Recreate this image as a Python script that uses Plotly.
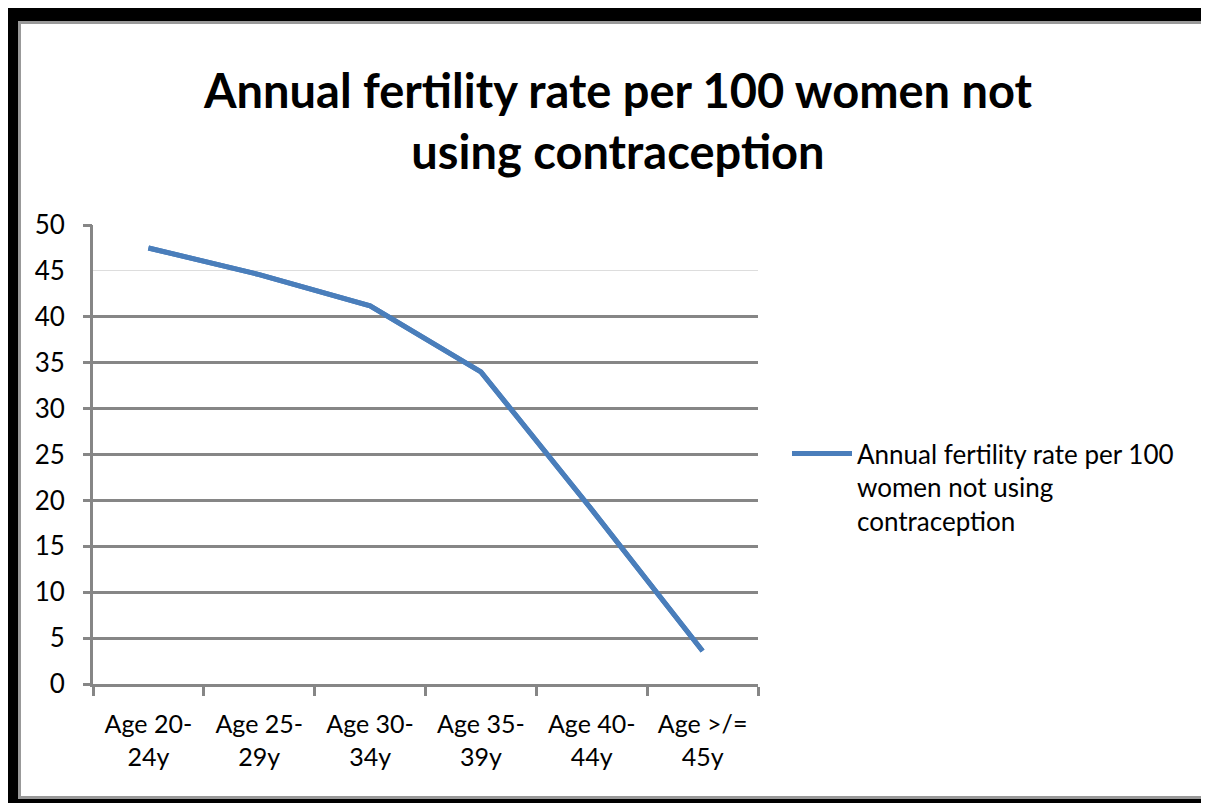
import plotly.graph_objects as go

categories = ["Age 20-<br>24y", "Age 25-<br>29y", "Age 30-<br>34y", "Age 35-<br>39y", "Age 40-<br>44y", "Age >/=<br>45y"]
fertility_rate = [47.5, 44.6, 41.2, 34.0, 19.0, 3.6]
series_name = "Annual fertility rate per 100<br>women not using<br>contraception"
title_text = "<b>Annual fertility rate per 100 women not<br>using contraception</b>"
y_ticks_all = [0, 5, 10, 15, 20, 25, 30, 35, 40, 45, 50]
y_ticks_major = [0, 5, 10, 15, 20, 25, 30, 35, 40, 50]

OFF = 8  # page body margin
W, H = 1209 - OFF, 803 - OFF
FONT = "Lato"
GRAY = "#868686"
BLUE = "#4a7ebb"

def px(x):
    return (x - OFF) / W

def py(y):
    return 1 - (y - OFF) / H

fig = go.Figure()
fig.add_trace(go.Scatter(
    x=categories, y=fertility_rate, mode="lines", name=series_name,
    line=dict(color=BLUE, width=5), xaxis="x", yaxis="y", hoverinfo="x+y",
))
fig.add_trace(go.Scatter(
    x=categories, y=fertility_rate, mode="lines", showlegend=False,
    line=dict(color=BLUE, width=5), xaxis="x", yaxis="y2", hoverinfo="skip",
))

fig.update_layout(
    width=W, height=H,
    margin=dict(l=0, r=0, t=0, b=0, autoexpand=False),
    paper_bgcolor="white", plot_bgcolor="white",
    font=dict(family=FONT, color="#000000"),
    title=dict(text=title_text, x=px(618), xanchor="center", y=py(108), yanchor="top",
               font=dict(family=FONT, size=47, color="#000000"), automargin=False),
    xaxis=dict(
        domain=[px(93), px(758)], anchor="y", automargin=False,
        type="category", range=[-0.5, 5.5],
        showline=True, linecolor=GRAY, linewidth=3,
        ticks="outside", tickson="boundaries", ticklen=9, tickwidth=3, tickcolor=GRAY,
        showgrid=False, tickfont=dict(size=25, family=FONT, color="#000"),
        ticklabelstandoff=16,
    ),
    yaxis=dict(
        domain=[py(684), py(225)], anchor="x", automargin=False,
        range=[0, 50], tickvals=y_ticks_all,
        showgrid=True, gridcolor="#dddddd", gridwidth=1,
        showline=True, linecolor=GRAY, linewidth=3,
        ticks="", tickfont=dict(size=26, family=FONT, color="#000"), ticklabelstandoff=20,
        zeroline=False,
    ),
    yaxis2=dict(
        overlaying="y", anchor="x", side="left", automargin=False,
        range=[0, 50], tickvals=y_ticks_major, showticklabels=False,
        showgrid=True, gridcolor=GRAY, gridwidth=3,
        ticks="outside", ticklen=9, tickwidth=3, tickcolor=GRAY,
        showline=False, zeroline=False,
    ),
    showlegend=True,
    legend=dict(x=px(787), y=py(430), xanchor="left", yanchor="top",
                font=dict(size=26, family=FONT, color="#000"), valign="top",
                bgcolor="rgba(0,0,0,0)", itemwidth=60, tracegroupgap=0),
)

shapes = [
    dict(type="rect", x0=px(8), x1=1, y0=py(21), y1=1, fillcolor="black", line_width=0),
    dict(type="rect", x0=px(18), x1=1, y0=py(24), y1=py(21), fillcolor="#999999", line_width=0),
    dict(type="rect", x0=px(8), x1=px(18), y0=0, y1=1, fillcolor="black", line_width=0),
    dict(type="rect", x0=px(18), x1=px(21), y0=py(796), y1=py(21), fillcolor="#999999", line_width=0),
    dict(type="rect", x0=px(18), x1=1, y0=py(799), y1=py(796), fillcolor="#999999", line_width=0),
    dict(type="rect", x0=px(8), x1=1, y0=0, y1=py(799), fillcolor="black", line_width=0),
]
for s in shapes:
    s.update(xref="paper", yref="paper", layer="above")
    fig.add_shape(**s)

fig.write_html("out.html")
